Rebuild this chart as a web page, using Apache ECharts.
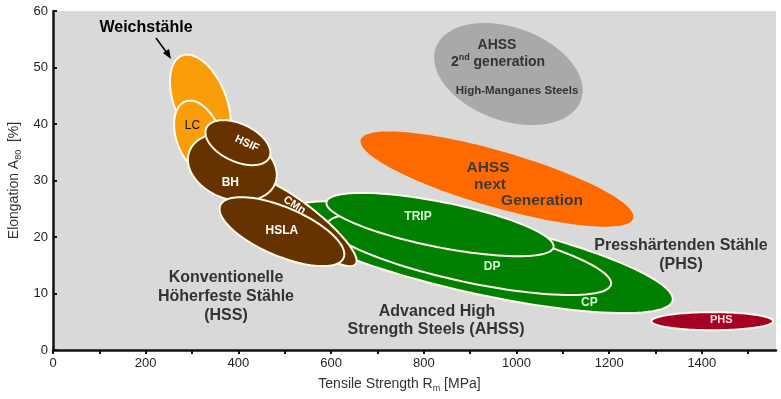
<!DOCTYPE html>
<html>
<head>
<meta charset="utf-8">
<script src="https://cdn.jsdelivr.net/npm/echarts@6/dist/echarts.min.js"></script>
<style>
html, body { margin: 0; padding: 0; background: #fff; }
#chart { width: 781px; height: 399px; }
</style>
</head>
<body>
<div id="chart"></div>
<script>
// Stahlsorten: Ellipse von (rmFrom, a80From) bis (rmTo, a80To), halbe Breite in % Dehnung
var grades = ["AHSS 2nd gen", "AHSS next gen", "Weichstähle", "LC", "CP", "DP", "TRIP", "CMn", "BH", "HSIF", "HSLA", "PHS"]
var rmFrom = [826, 664, 278, 286, 494, 592, 590, 415, 294, 331, 361, 1291]
var a80From = [53.5, 37.2, 52.1, 44.0, 24.1, 22.3, 26.2, 30.4, 35.1, 39.3, 25.6, 5.1]
var rmTo = [1139, 1252, 358, 342, 1337, 1204, 1080, 653, 480, 467, 627, 1554]
var a80To = [44.2, 23.3, 35.7, 31.4, 8.75, 11.6, 18.2, 15.2, 29.6, 34.1, 16.3, 5.1]
var a80Half = [8.24, 4.96, 4.6, 3.9, 6.4, 4.96, 4.0, 3.0, 5.67, 3.33, 4.3, 1.6]

// Achsen
var rmTicks = [0, 200, 400, 600, 800, 1000, 1200, 1400]
var a80Ticks = [0, 10, 20, 30, 40, 50, 60]

var FONT = "'Liberation Sans', Arial, sans-serif"

// Aussehen je Sorte (Farbe, Rand, Beschriftung)
var look = {
    "AHSS 2nd gen": { fill: "#a9a9a9" },
    "AHSS next gen": { fill: "#ff6a00" },
    "Weichstähle": { fill: "#f99d0a", edge: true },
    "LC": { fill: "#f99d0a", edge: true, text: "LC", dx: -6, dy: -11, color: "#111", weight: "normal", size: 12 },
    "CP": { fill: "#007f00", edge: true, text: "CP", dx: 112, dy: 45, color: "#d8ffd8", size: 12 },
    "DP": { fill: "#007f00", edge: true, text: "DP", dx: 23, dy: 12, color: "#d8ffd8", size: 12 },
    "TRIP": { fill: "#007f00", edge: true, text: "TRIP", dx: -22, dy: -8, color: "#d8ffd8", size: 12 },
    "CMn": { fill: "#663300", edge: true, text: "CMn", dx: -6, dy: -16, rot: 33, color: "#fff", size: 11 },
    "BH": { fill: "#663300", edge: true, text: "BH", dx: -2, dy: 15, color: "#fff", size: 12 },
    "HSIF": { fill: "#663300", edge: true, text: "HSIF", dx: 9, dy: 1, rot: 25, color: "#fff", size: 11 },
    "HSLA": { fill: "#663300", edge: true, text: "HSLA", dx: 0, dy: -1, color: "#fff", size: 12 },
    "PHS": { fill: "#a50021", edge: true, text: "PHS", dx: 9, dy: -1, color: "#ffdede", size: 11 }
}

var ellipseData = grades.map(function(g, i) {
    return { name: g, value: [rmFrom[i], a80From[i], rmTo[i], a80To[i], a80Half[i]] }
})

function renderEllipse(params, api) {
    var p1 = api.coord([api.value(0), api.value(1)])
    var p2 = api.coord([api.value(2), api.value(3)])
    var b = api.size([0, api.value(4)])[1]
    var cx = (p1[0] + p2[0]) / 2
    var cy = (p1[1] + p2[1]) / 2
    var dx = p2[0] - p1[0]
    var dy = p2[1] - p1[1]
    var a = Math.sqrt(dx * dx + dy * dy) / 2
    var ang = Math.atan2(dy, dx)
    var ca = Math.cos(ang), sa = Math.sin(ang)
    var pts = []
    for (var k = 0; k < 120; k++) {
        var t = (Math.PI * 2 * k) / 120
        var ex = a * Math.cos(t)
        var ey = b * Math.sin(t)
        pts.push([cx + ex * ca - ey * sa, cy + ex * sa + ey * ca])
    }
    var st = look[grades[params.dataIndex]]
    var children = [
        {
            type: "polygon",
            shape: { points: pts },
            style: {
                fill: st.fill,
                stroke: st.edge ? "#fffbea" : null,
                lineWidth: st.edge ? 2 : 0
            }
        }
    ]
    if (st.text) {
        children.push({
            type: "text",
            x: cx + st.dx,
            y: cy + st.dy,
            rotation: st.rot ? (-st.rot * Math.PI) / 180 : 0,
            style: {
                text: st.text,
                fill: st.color,
                font: (st.weight || "bold") + " " + st.size + "px " + FONT,
                align: "center",
                verticalAlign: "middle"
            }
        })
    }
    return { type: "group", children: children }
}

function note(x, y, text, size, color, extra) {
    var o = {
        type: "text",
        x: x,
        y: y,
        z: 100,
        style: {
            text: text,
            fill: color || "#333",
            font: "bold " + (size || 16) + "px " + FONT,
            align: "center",
            verticalAlign: "middle"
        }
    }
    if (extra) {
        for (var k in extra) o.style[k] = extra[k]
    }
    return o
}

var chart = echarts.init(document.getElementById("chart"))

var option = {
    backgroundColor: "#fff",
    animation: false,
    grid: {
        left: 53,
        right: 5,
        top: 11,
        bottom: 49,
        outerBoundsMode: "none",
        containLabel: false,
        show: true,
        backgroundColor: "#d9d9d9",
        borderWidth: 0
    },
    xAxis: {
        type: "value",
        min: 0,
        max: 1560,
        interval: 100,
        axisLine: { show: true, lineStyle: { color: "#111", width: 2.5 } },
        axisTick: { show: true, length: 4, lineStyle: { color: "#111", width: 2 } },
        splitLine: { show: false },
        axisLabel: {
            color: "#222",
            fontSize: 13,
            fontFamily: FONT,
            margin: 7,
            showMaxLabel: false,
            formatter: function(v) {
                return rmTicks.indexOf(v) >= 0 ? String(v) : ""
            }
        },
        name: "{a|Tensile Strength R}{s|m}{a| [MPa]}",
        nameLocation: "middle",
        nameGap: 26,
        nameTextStyle: {
            padding: [0, 30, 0, 0],
            rich: {
                a: { fontSize: 14, color: "#333", fontFamily: FONT },
                s: { fontSize: 9, color: "#333", fontFamily: FONT, verticalAlign: "bottom", padding: [8, 0, 0, 0] }
            }
        }
    },
    yAxis: {
        type: "value",
        min: 0,
        max: 60,
        interval: 10,
        axisLine: { show: true, lineStyle: { color: "#111", width: 2.5 } },
        axisTick: { show: true, inside: true, length: 4, lineStyle: { color: "#111", width: 2 } },
        splitLine: { show: false },
        axisLabel: {
            color: "#222",
            fontSize: 13,
            fontFamily: FONT,
            margin: 5,
            formatter: function(v) {
                return a80Ticks.indexOf(v) >= 0 ? String(v) : ""
            }
        },
        name: "{a|Elongation A}{s|80}{a|  [%]}",
        nameLocation: "middle",
        nameGap: 28,
        nameTextStyle: {
            rich: {
                a: { fontSize: 14, color: "#333", fontFamily: FONT },
                s: { fontSize: 9, color: "#333", fontFamily: FONT, verticalAlign: "bottom", padding: [8, 0, 0, 0] }
            }
        }
    },
    series: [
        {
            type: "custom",
            name: "Stahlsorten",
            renderItem: renderEllipse,
            clip: false,
            encode: { x: [0, 2], y: [1, 3] },
            data: ellipseData,
            silent: true
        }
    ],
    graphic: [
        note(146, 28, "Weichstähle", 16, "#000"),
        {
            type: "line",
            z: 100,
            shape: { x1: 156, y1: 38, x2: 167, y2: 53 },
            style: { stroke: "#000", lineWidth: 1.5 }
        },
        {
            type: "polygon",
            z: 100,
            shape: { points: [[171, 59], [163, 53], [169, 49]] },
            style: { fill: "#000" }
        },
        note(226, 278, "Konventionelle", 16),
        note(226, 297, "Höherfeste Stähle", 16),
        note(226, 316, "(HSS)", 16),
        note(437, 312, "Advanced High", 16),
        note(436, 330, "Strength Steels (AHSS)", 16),
        note(681, 246, "Presshärtenden Stähle", 16, "#333", { letterSpacing: 0.6 }),
        note(681, 265, "(PHS)", 16),
        note(497, 45, "AHSS", 14),
        {
            type: "text",
            x: 498,
            y: 62,
            z: 100,
            style: {
                text: "{n|2}{sup|nd}{n| generation}",
                align: "center",
                verticalAlign: "middle",
                rich: {
                    n: { font: "bold 14px " + FONT, fill: "#333" },
                    sup: { font: "bold 9px " + FONT, fill: "#333", verticalAlign: "top", padding: [0, 0, 8, 0] }
                }
            }
        },
        note(517, 91, "High-Manganes Steels", 11.5),
        note(488, 168, "AHSS", 15.5, "#3a3a3a"),
        note(490, 185, "next", 15.5, "#3a3a3a"),
        note(542, 201, "Generation", 15.5, "#3a3a3a")
    ]
}

chart.setOption(option)
</script>
</body>
</html>
